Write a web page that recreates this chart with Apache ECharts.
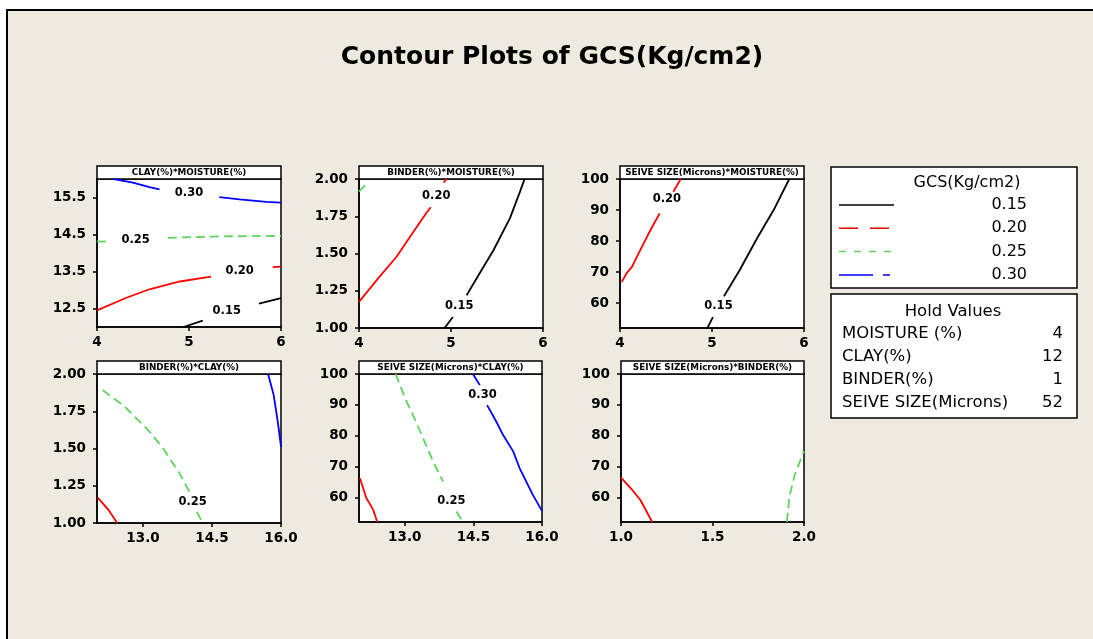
<!DOCTYPE html>
<html>
<head>
<meta charset="utf-8">
<script src="https://cdn.jsdelivr.net/npm/echarts@6/dist/echarts.min.js"></script>
<style>
  html, body { margin: 0; padding: 0; background: #ffffff; }
  #chart { width: 1093px; height: 639px; }
</style>
</head>
<body>
<div id="chart"></div>
<script>
// ---- Contour levels of GCS (Kg/cm2) ----
const levels = [0.15, 0.20, 0.25, 0.30];

// ---- Panel titles ----
const panelTitles = [
  'CLAY(%)*MOISTURE(%)',
  'BINDER(%)*MOISTURE(%)',
  'SEIVE SIZE(Microns)*MOISTURE(%)',
  'BINDER(%)*CLAY(%)',
  'SEIVE SIZE(Microns)*CLAY(%)',
  'SEIVE SIZE(Microns)*BINDER(%)'
];

// ---- Tick values ----
const moistureTicks = [4, 5, 6];
const clayTicksY = [12.5, 13.5, 14.5, 15.5];
const clayTicksX = [13.0, 14.5, 16.0];
const binderTicksY = [1.00, 1.25, 1.50, 1.75, 2.00];
const binderTicksX = [1.0, 1.5, 2.0];
const sieveTicks = [60, 70, 80, 90, 100];

// ---- Hold values ----
const holdFactors = ['MOISTURE (%)', 'CLAY(%)', 'BINDER(%)', 'SEIVE SIZE(Microns)'];
const holdValues = [4, 12, 1, 52];

// ---- Contour lines: [x, y] points, null = gap left for a level label ----
// CLAY(%) vs MOISTURE(%)
const clayMoisture015 = [[4.94,12.0],[5.15,12.17],null,[5.76,12.63],[6.0,12.78]];
const clayMoisture020 = [[4.0,12.45],[4.32,12.79],[4.57,13.02],[4.90,13.23],[5.24,13.36],null,[5.91,13.62],[6.0,13.63]];
const clayMoisture025 = [[4.0,14.31],[4.10,14.31],null,[4.77,14.41],[5.33,14.45],[6.0,14.46]];
const clayMoisture030 = [[4.18,16.0],[4.39,15.90],[4.57,15.78],[4.68,15.72],null,[5.33,15.51],[5.55,15.45],[5.84,15.38],[6.0,15.36]];
const clayMoistureTags = [[5.41,12.42,0.15],[5.55,13.50,0.20],[4.42,14.34,0.25],[5.0,15.61,0.30]];

// BINDER(%) vs MOISTURE(%)
const binderMoisture015 = [[4.93,1.0],[5.02,1.074],null,[5.17,1.22],[5.31,1.366],[5.46,1.52],[5.64,1.736],[5.75,1.915],[5.80,2.0]];
const binderMoisture020 = [[4.0,1.175],[4.19,1.32],[4.41,1.48],[4.59,1.645],[4.73,1.77],[4.78,1.81],null,[4.92,1.975],[4.95,2.0]];
const binderMoisture025 = [[4.0,1.915],[4.09,1.975]];
const binderMoistureTags = [[5.09,1.148,0.15],[4.84,1.886,0.20]];

// SEIVE SIZE(Microns) vs MOISTURE(%)
const sieveMoisture015 = [[4.95,52.0],[5.01,55.5],null,[5.13,62.2],[5.30,70.6],[5.49,80.9],[5.67,90.0],[5.84,100]];
const sieveMoisture020 = [[4.02,66.85],[4.07,69.6],[4.13,71.7],[4.22,77.1],[4.33,83.5],[4.43,88.9],null,[4.58,95.9],[4.66,100]];
const sieveMoistureTags = [[5.07,59.1,0.15],[4.51,93.4,0.20]];

// BINDER(%) vs CLAY(%)
const binderClay020 = [[12.02,1.168],[12.24,1.092],[12.44,1.0]];
const binderClay025 = [[12.12,1.892],[12.57,1.79],[12.93,1.68],[13.15,1.61],[13.44,1.50],[13.80,1.33],[14.01,1.21],null,[14.17,1.074],[14.30,1.0]];
const binderClay030 = [[15.72,2.0],[15.84,1.86],[15.91,1.72],[15.95,1.635],[16.0,1.51]];
const binderClayTags = [[14.08,1.14,0.25]];

// SEIVE SIZE(Microns) vs CLAY(%)
const sieveClay020 = [[12.02,66.2],[12.16,59.8],[12.31,56.0],[12.40,52]];
const sieveClay025 = [[12.80,100],[13.04,91.0],[13.18,86.7],[13.40,79.2],[13.62,71.6],[13.84,65.1],null,[14.13,55.4],[14.27,52]];
const sieveClay030 = [[14.49,100],[14.64,96.4],null,[14.80,89.9],[15.0,84.6],[15.15,80.2],[15.37,74.9],[15.51,69.5],[15.80,60.8],[16.0,55.6]];
const sieveClayTags = [[14.02,58.7,0.25],[14.70,93.2,0.30]];

// SEIVE SIZE(Microns) vs BINDER(%)
const sieveBinder020 = [[1.0,66.4],[1.06,62.5],[1.105,59.2],[1.14,55.4],[1.17,52]];
const sieveBinder025 = [[1.907,52],[1.92,60.3],[1.95,67.4],[2.0,75.0]];
const sieveBinderTags = [];

// ---- Styling ----
const FONT = 'DejaVu Sans';
const BG = '#EEEAE0';
const levelStyle = {
  0.15: { color: '#000000', type: 'solid' },
  0.20: { color: '#FF0000', type: 'solid' },
  0.25: { color: '#5FD35F', type: [9, 5] },
  0.30: { color: '#0000FF', type: 'solid' }
};

// grid boxes (pixels) for the six panels
const gridBoxes = [
  { left: 97,  top: 179, width: 184, height: 148 },
  { left: 359, top: 179, width: 184, height: 149 },
  { left: 620, top: 179, width: 184, height: 149 },
  { left: 97,  top: 374, width: 184, height: 149 },
  { left: 359, top: 374, width: 183, height: 148 },
  { left: 621, top: 374, width: 183, height: 148 }
];

const panels = [
  { x: [4, 6, moistureTicks, 0],   y: [12, 16, clayTicksY, 1],
    lines: [[0.15, clayMoisture015], [0.20, clayMoisture020], [0.25, clayMoisture025], [0.30, clayMoisture030]], tags: clayMoistureTags },
  { x: [4, 6, moistureTicks, 0],   y: [1, 2, binderTicksY, 2],
    lines: [[0.15, binderMoisture015], [0.20, binderMoisture020], [0.25, binderMoisture025]], tags: binderMoistureTags },
  { x: [4, 6, moistureTicks, 0],   y: [52, 100, sieveTicks, 0],
    lines: [[0.15, sieveMoisture015], [0.20, sieveMoisture020]], tags: sieveMoistureTags },
  { x: [12, 16, clayTicksX, 1],    y: [1, 2, binderTicksY, 2],
    lines: [[0.20, binderClay020], [0.25, binderClay025], [0.30, binderClay030]], tags: binderClayTags },
  { x: [12, 16, clayTicksX, 1],    y: [52, 100, sieveTicks, 0],
    lines: [[0.20, sieveClay020], [0.25, sieveClay025], [0.30, sieveClay030]], tags: sieveClayTags },
  { x: [1, 2, binderTicksX, 1],    y: [52, 100, sieveTicks, 0],
    lines: [[0.20, sieveBinder020], [0.25, sieveBinder025]], tags: sieveBinderTags }
];

function makeAxis(spec, gridIndex, isX) {
  const [min, max, ticks, dec] = spec;
  return {
    type: 'value', gridIndex, min, max,
    axisLine: { show: true, onZero: false, lineStyle: { color: '#000', width: 1.5 } },
    axisTick: { show: true, inside: false, length: 4, customValues: ticks, lineStyle: { color: '#000', width: 1.5 } },
    axisLabel: {
      show: true, customValues: ticks, margin: isX ? 8 : 11,
      fontFamily: FONT, fontWeight: 'bold', fontSize: 13.5, color: '#000',
      formatter: v => Number(v).toFixed(dec)
    },
    splitLine: { show: false }
  };
}

function splitSegments(pts) {
  const segs = [];
  let cur = [];
  pts.forEach(p => {
    if (p === null) { if (cur.length) segs.push(cur); cur = []; }
    else cur.push(p);
  });
  if (cur.length) segs.push(cur);
  return segs;
}

const grids = [], xAxes = [], yAxes = [], series = [], graphics = [];

// outer frame
graphics.push({ type: 'rect', shape: { x: 7, y: 10, width: 1100, height: 640 },
  style: { fill: BG, stroke: '#000', lineWidth: 2 }, z: -10 });

graphics.push({ type: 'text', x: 552, y: 57,
  style: { text: 'Contour Plots of GCS(Kg/cm2)', font: 'bold 25px "DejaVu Sans"', fill: '#000',
    align: 'center', verticalAlign: 'middle', textAlign: 'center', textVerticalAlign: 'middle' } });

panels.forEach((p, i) => {
  const b = gridBoxes[i];
  grids.push({ left: b.left, top: b.top, width: b.width, height: b.height, show: true,
    backgroundColor: '#fff', borderColor: '#000', borderWidth: 1.5, containLabel: false });
  xAxes.push(makeAxis(p.x, i, true));
  yAxes.push(makeAxis(p.y, i, false));

  // panel header band
  graphics.push({ type: 'rect', shape: { x: b.left, y: b.top - 13, width: b.width, height: 13 },
    style: { fill: '#fff', stroke: '#000', lineWidth: 1.5 } });
  graphics.push({ type: 'text', x: b.left + b.width / 2, y: b.top - 6.5,
    style: { text: panelTitles[i], font: 'bold 8.8px "DejaVu Sans"', fill: '#000',
      align: 'center', verticalAlign: 'middle', textAlign: 'center', textVerticalAlign: 'middle' } });

  p.lines.forEach(([lvl, pts]) => {
    splitSegments(pts).forEach(seg => {
      series.push({
        type: 'line', xAxisIndex: i, yAxisIndex: i, data: seg, symbol: 'none',
        clip: true, silent: true, animation: false,
        lineStyle: { color: levelStyle[lvl].color, type: levelStyle[lvl].type, width: 1.8 }
      });
    });
  });

  if (p.tags.length) {
    series.push({
      type: 'scatter', xAxisIndex: i, yAxisIndex: i, symbolSize: 0, silent: true, animation: false,
      itemStyle: { color: '#000', opacity: 1 },
      data: p.tags.map(t => ({ value: [t[0], t[1]], level: t[2] })),
      label: { show: true, position: 'inside', fontFamily: FONT, fontWeight: 'bold', fontSize: 11.5, color: '#000',
        opacity: 1, textBorderWidth: 0, textBorderColor: 'transparent',
        formatter: d => d.data.level.toFixed(2) }
    });
  }
});

// legend box: contour levels
graphics.push({ type: 'rect', shape: { x: 831, y: 167, width: 246, height: 121 },
  style: { fill: '#fff', stroke: '#000', lineWidth: 1.5 } });
graphics.push({ type: 'text', x: 967, y: 183,
  style: { text: 'GCS(Kg/cm2)', font: '16px "DejaVu Sans"', fill: '#000',
    align: 'center', verticalAlign: 'middle', textAlign: 'center', textVerticalAlign: 'middle' } });
const legendDash = { 0.15: null, 0.20: [19, 12], 0.25: [7, 8], 0.30: [34, 10, 7, 10] };
levels.forEach((lvl, k) => {
  const y = 205 + k * 23.3;
  graphics.push({ type: 'line', shape: { x1: 839, y1: y, x2: 894, y2: y },
    style: { stroke: levelStyle[lvl].color, lineWidth: 1.5, lineDash: legendDash[lvl] } });
  graphics.push({ type: 'text', x: 1027, y: y,
    style: { text: lvl.toFixed(2), font: '16px "DejaVu Sans"', fill: '#000',
      align: 'right', verticalAlign: 'middle', textAlign: 'right', textVerticalAlign: 'middle' } });
});

// legend box: hold values
graphics.push({ type: 'rect', shape: { x: 831, y: 294, width: 246, height: 124 },
  style: { fill: '#fff', stroke: '#000', lineWidth: 1.5 } });
graphics.push({ type: 'text', x: 953, y: 312,
  style: { text: 'Hold Values', font: '16.5px "DejaVu Sans"', fill: '#000',
    align: 'center', verticalAlign: 'middle', textAlign: 'center', textVerticalAlign: 'middle' } });
holdFactors.forEach((name, k) => {
  const y = 334 + k * 23;
  graphics.push({ type: 'text', x: 842, y: y,
    style: { text: name, font: '16.5px "DejaVu Sans"', fill: '#000',
      align: 'left', verticalAlign: 'middle', textAlign: 'left', textVerticalAlign: 'middle' } });
  graphics.push({ type: 'text', x: 1063, y: y,
    style: { text: String(holdValues[k]), font: '16.5px "DejaVu Sans"', fill: '#000',
      align: 'right', verticalAlign: 'middle', textAlign: 'right', textVerticalAlign: 'middle' } });
});

const chart = echarts.init(document.getElementById('chart'), null, { renderer: 'canvas' });
chart.setOption({
  backgroundColor: '#ffffff',
  animation: false,
  grid: grids,
  xAxis: xAxes,
  yAxis: yAxes,
  series: series,
  graphic: { elements: graphics }
});
</script>
</body>
</html>
